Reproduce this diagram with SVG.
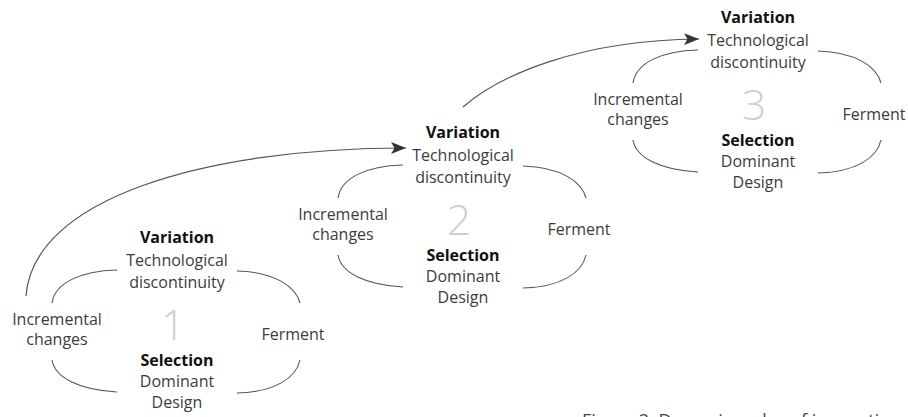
<svg xmlns="http://www.w3.org/2000/svg" width="908" height="417" viewBox="0 0 908 417">
<style>
text{font-family:"Open Sans","Noto Sans","DejaVu Sans",sans-serif;font-size:16px;fill:#3c3c3c;text-anchor:middle}
.b{font-weight:bold;fill:#111}
.num{font-size:43px;fill:#cfcfcf;font-weight:300}
.arc{fill:none;stroke:#555;stroke-width:1.1}
.conn{fill:none;stroke:#555;stroke-width:1.2}
.cap{font-size:18px;text-anchor:start;fill:#444}
</style>
<defs>
<marker id="ah" markerUnits="userSpaceOnUse" viewBox="0 0 15 12" markerWidth="15" markerHeight="12" refX="15" refY="6" orient="auto">
<path d="M0,0 L15,6 L0,12 L3.5,6 z" fill="#333"/>
</marker>
<g id="cycle">
<path class="arc" d="M52,303 C55,283 80,271 117,270"/>
<path class="arc" d="M237,271 C275,272 296,287 300,303"/>
<path class="arc" d="M52,360 C55,378 80,390 117,392"/>
<path class="arc" d="M237,393 C275,392 296,378 300,360"/>
<text x="177" y="243" class="b">Variation</text>
<text x="177" y="266">Technological</text>
<text x="177" y="288">discontinuity</text>
<text x="57" y="325">Incremental</text>
<text x="57" y="345">changes</text>
<text x="293" y="340">Ferment</text>
<text x="177" y="366" class="b">Selection</text>
<text x="177" y="387">Dominant</text>
<text x="177" y="408">Design</text>
</g>
</defs>
<g id="cycle1">
<use href="#cycle"/>
<text x="173" y="340" class="num">1</text>
</g>
<g id="cycle2" transform="translate(286,-105)">
<use href="#cycle"/>
<text x="173" y="340" class="num">2</text>
</g>
<g id="cycle3" transform="translate(581,-220)">
<use href="#cycle"/>
<text x="173" y="340" class="num">3</text>
</g>
<g id="connectors">
<path class="conn" marker-end="url(#ah)" d="M26,296 C33,200 200,148 406,148"/>
<path class="conn" marker-end="url(#ah)" d="M463,107 C500,75 580,40 699,39"/>
</g>
<text class="cap" x="582" y="427">Figure 2: Dynamic cycles of innovation</text>
</svg>
